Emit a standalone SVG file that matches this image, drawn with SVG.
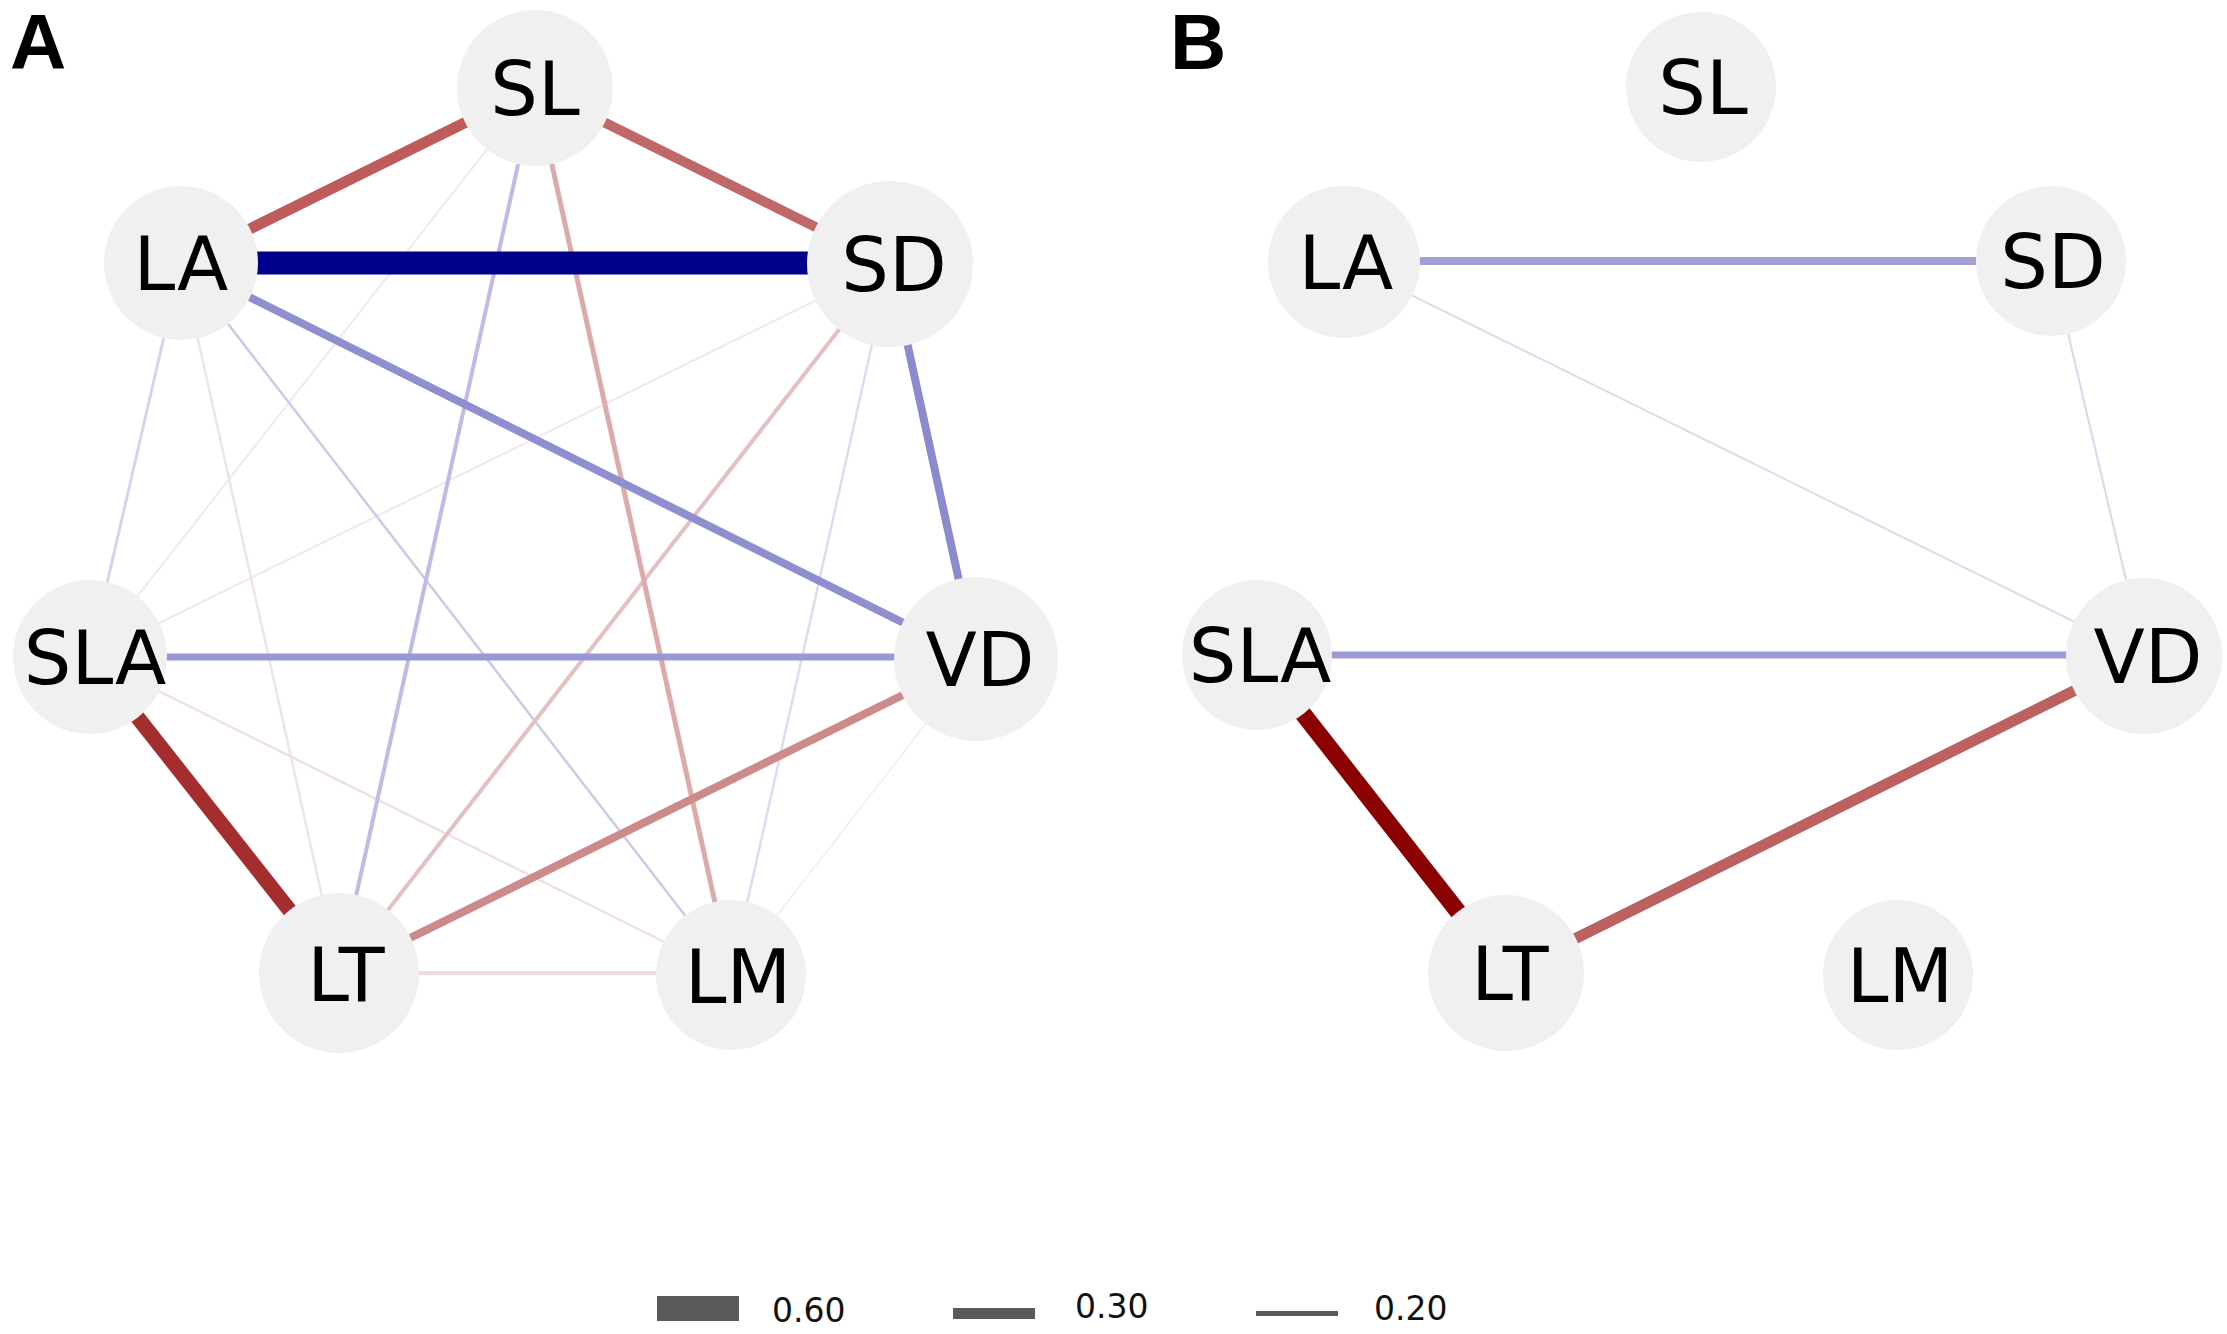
<svg xmlns="http://www.w3.org/2000/svg" width="2227" height="1334" viewBox="0 0 2227 1334">
<style>
.bg{fill:#ffffff}
.node circle{fill:#f0f0f0}
.node text{font-family:"DejaVu Sans","Verdana",sans-serif;font-size:75px;fill:#000;text-anchor:middle}
.panel{font-family:"Liberation Sans",Arial,sans-serif;font-weight:bold;font-size:78px;fill:#000}
.edges line{stroke-linecap:butt}
.leg rect{fill:#5a5a5a}
.leg text{font-family:"DejaVu Sans",sans-serif;font-size:33px;fill:#111}
</style>
<rect class="bg" x="0" y="0" width="2227" height="1334"/>
<text class="panel" x="10" y="69">A</text>
<text class="panel" x="1170" y="69">B</text>

<g id="connectors-A" class="edges">
  <line x1="535" y1="88" x2="90" y2="657" stroke="#ebebf2" stroke-width="2"/>
  <line x1="890" y1="264" x2="90" y2="657" stroke="#f2e8eb" stroke-width="2"/>
  <line x1="976" y1="659" x2="731" y2="975" stroke="#f4ecef" stroke-width="1.5"/>
  <line x1="181" y1="263" x2="90" y2="657" stroke="#d4d4ee" stroke-width="3"/>
  <line x1="181" y1="263" x2="339" y2="973" stroke="#f0e2e6" stroke-width="2.5"/>
  <line x1="181" y1="263" x2="731" y2="975" stroke="#cbcbe8" stroke-width="2.5"/>
  <line x1="890" y1="264" x2="731" y2="975" stroke="#dcdcf0" stroke-width="2.5"/>
  <line x1="90" y1="657" x2="731" y2="975" stroke="#f0e0e5" stroke-width="2.5"/>
  <line x1="339" y1="973" x2="731" y2="973" stroke="#efd9de" stroke-width="4"/>
  <line x1="535" y1="88" x2="339" y2="973" stroke="#bcbce4" stroke-width="4"/>
  <line x1="890" y1="264" x2="339" y2="973" stroke="#e4c0c0" stroke-width="4"/>
  <line x1="535" y1="88" x2="731" y2="975" stroke="#ddaaaa" stroke-width="5"/>
  <line x1="976" y1="659" x2="339" y2="973" stroke="#cc8a8a" stroke-width="8"/>
  <line x1="90" y1="657" x2="976" y2="657" stroke="#9898d4" stroke-width="7"/>
  <line x1="181" y1="263" x2="976" y2="659" stroke="#8e8ed0" stroke-width="8"/>
  <line x1="890" y1="264" x2="976" y2="659" stroke="#8a8acc" stroke-width="8"/>
  <line x1="90" y1="657" x2="339" y2="973" stroke="#a52d2d" stroke-width="15"/>
  <line x1="535" y1="88" x2="181" y2="263" stroke="#bf5b5b" stroke-width="11"/>
  <line x1="535" y1="88" x2="890" y2="264" stroke="#c06868" stroke-width="10"/>
  <line x1="181" y1="263" x2="890" y2="263" stroke="#00008b" stroke-width="23"/>
</g>

<g id="connectors-B" class="edges">
  <line x1="1344" y1="262" x2="2144" y2="656" stroke="#dcdcee" stroke-width="2"/>
  <line x1="2051" y1="261" x2="2144" y2="656" stroke="#d8d8ee" stroke-width="2"/>
  <line x1="1344" y1="261" x2="2051" y2="261" stroke="#a0a0d4" stroke-width="8"/>
  <line x1="1257" y1="655" x2="2144" y2="655" stroke="#9c9cd4" stroke-width="7"/>
  <line x1="2144" y1="656" x2="1506" y2="973" stroke="#bc6060" stroke-width="11"/>
  <line x1="1257" y1="655" x2="1506" y2="973" stroke="#8b0000" stroke-width="17"/>
</g>

<g id="A-SL" class="node"><circle cx="535" cy="88" r="78"/><text x="535" y="115">SL</text></g>
<g id="A-LA" class="node"><circle cx="181" cy="263" r="77"/><text x="181" y="290">LA</text></g>
<g id="A-SD" class="node"><circle cx="890" cy="264" r="83"/><text x="894" y="291">SD</text></g>
<g id="A-SLA" class="node"><circle cx="90" cy="657" r="77"/><text x="95" y="684">SLA</text></g>
<g id="A-VD" class="node"><circle cx="976" cy="659" r="82"/><text x="980" y="686">VD</text></g>
<g id="A-LT" class="node"><circle cx="339" cy="973" r="80"/><text x="346" y="1001">LT</text></g>
<g id="A-LM" class="node"><circle cx="731" cy="975" r="75"/><text x="738" y="1003">LM</text></g>

<g id="B-SL" class="node"><circle cx="1701" cy="87" r="75"/><text x="1703" y="114">SL</text></g>
<g id="B-LA" class="node"><circle cx="1344" cy="262" r="76"/><text x="1346" y="289">LA</text></g>
<g id="B-SD" class="node"><circle cx="2051" cy="261" r="75"/><text x="2053" y="288">SD</text></g>
<g id="B-SLA" class="node"><circle cx="1257" cy="655" r="75"/><text x="1260" y="682">SLA</text></g>
<g id="B-VD" class="node"><circle cx="2144" cy="656" r="78"/><text x="2148" y="683">VD</text></g>
<g id="B-LT" class="node"><circle cx="1506" cy="973" r="78"/><text x="1510" y="1000">LT</text></g>
<g id="B-LM" class="node"><circle cx="1898" cy="975" r="75"/><text x="1900" y="1002">LM</text></g>

<g id="legend" class="leg">
  <rect x="657" y="1296" width="82" height="25"/>
  <text x="772" y="1322">0.60</text>
  <rect x="953" y="1308" width="82" height="11"/>
  <text x="1075" y="1318">0.30</text>
  <rect x="1256" y="1311" width="82" height="5"/>
  <text x="1374" y="1320">0.20</text>
</g>
</svg>
